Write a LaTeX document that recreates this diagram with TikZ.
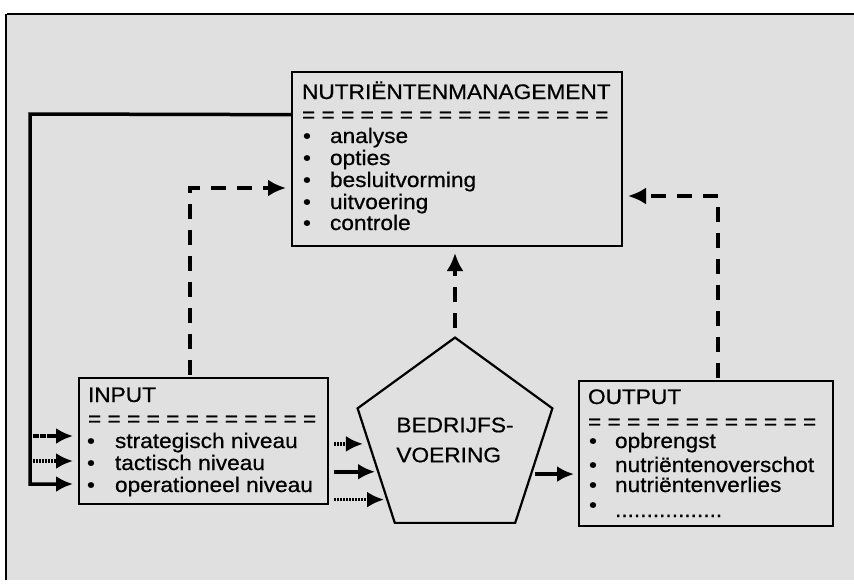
\documentclass[tikz,border=0pt]{standalone}
\usepackage{fontspec}
\setmainfont{Liberation Sans}[FakeStretch=1.08,FakeBold=0.6]
\usetikzlibrary{arrows.meta,calc,shapes.geometric}
\begin{document}
\begin{tikzpicture}[x=1pt,y=-1pt,
  txt/.style={anchor=base west,inner sep=0pt,outer sep=0pt,font=\fontsize{21}{21}\selectfont},
  box/.style={draw,line width=2pt,anchor=north west,inner sep=0pt},
  flow/.style={line width=3.5pt,-{Latex[length=17pt,width=16pt]}},
  rough/.style={dash pattern=on 6pt off 0.8pt},
  fine/.style={dash pattern=on 2.2pt off 0.8pt},
  dsh/.style={line width=3.5pt,dash pattern=on 15pt off 11pt,-{Latex[length=18pt,width=17pt]}},
]
\useasboundingbox (0,0) rectangle (854,584);
% background
\fill[black!12] (7,14) rectangle (854,580);
\draw[line width=2.5pt] (7,14) -- (854,14);
\draw[line width=1.5pt] (6,14) -- (6,580);

% boxes
\node[box,minimum width=330pt,minimum height=174pt] (nm) at (291,71) {};
\node[box,minimum width=249pt,minimum height=126pt] (in) at (78,377) {};
\node[box,minimum width=254pt,minimum height=145pt] (out) at (578,380) {};
\node[draw,line width=2.2pt,regular polygon,regular polygon sides=5,minimum size=164pt,inner sep=0pt,
      align=left,font=\fontsize{21}{30}\selectfont] (pent) at (455,440) {BEDRIJFS-\\VOERING};

% NUTRIENTENMANAGEMENT texts
\node[txt] (nmt) at (302,99) {NUTRIËNTENMANAGEMENT};
\node[txt] (nms) at (302,122) {= = = = = = = = = = = = = = = =};
\node[txt] (nmb1) at (303,143) {•};
\node[txt] (nmi1) at (330,143) {analyse};
\node[txt] (nmb2) at (303,165) {•};
\node[txt] (nmi2) at (330,165) {opties};
\node[txt] (nmb3) at (303,187) {•};
\node[txt] (nmi3) at (330,187) {besluitvorming};
\node[txt] (nmb4) at (303,209) {•};
\node[txt] (nmi4) at (330,209) {uitvoering};
\node[txt] (nmb5) at (303,230) {•};
\node[txt] (nmi5) at (330,230) {controle};

% INPUT texts
\node[txt] (int) at (88,402) {INPUT};
\node[txt] (ins) at (88,426) {= = = = = = = = = = = =};
\node[txt] (inb1) at (87,448) {•};
\node[txt] (ini1) at (115,448) {strategisch niveau};
\node[txt] (inb2) at (87,470) {•};
\node[txt] (ini2) at (115,470) {tactisch niveau};
\node[txt] (inb3) at (87,492) {•};
\node[txt] (ini3) at (115,492) {operationeel niveau};

% OUTPUT texts
\node[txt] (outt) at (588,404) {OUTPUT};
\node[txt] (outs) at (588,429) {= = = = = = = = = = = =};
\node[txt] (outb1) at (589,448) {•};
\node[txt] (outi1) at (615,448) {opbrengst};
\node[txt] (outb2) at (589,472) {•};
\node[txt] (outi2) at (615,472) {nutriëntenoverschot};
\node[txt] (outb3) at (589,492) {•};
\node[txt] (outi3) at (615,492) {nutriëntenverlies};
\node[txt] (outb4) at (589,512) {•};
\node[txt] (outi4) at (615,517) {.................};

% feedback line
\coordinate (fb1) at (30,114);
\coordinate (fb2) at (30,484);
\draw[flow,line join=miter,shorten >=5pt] ($(nm.north west)!0.248!(nm.south west)$) -- (fb1) -- (fb2) -- (fb2 -| in.west);

% left inputs
\coordinate (s1) at (33,436);
\coordinate (s2) at (33,461);
\draw[flow,rough,shorten >=5pt] (s1) -- (s1 -| in.west);
\draw[flow,fine,shorten >=5pt] (s2) -- (s2 -| in.west);

% INPUT -> BEDRIJFSVOERING
\coordinate (pe1) at ($(pent.corner 2)!0.31!(pent.corner 3)$);
\coordinate (pe2) at ($(pent.corner 2)!0.55!(pent.corner 3)$);
\coordinate (pe3) at ($(pent.corner 2)!0.79!(pent.corner 3)$);
\draw[flow,fine,shorten <=5pt,shorten >=5pt] (pe1 -| in.east) -- (pe1);
\draw[flow,shorten <=5pt,shorten >=2pt] (pe2 -| in.east) -- (pe2);
\draw[flow,fine,shorten <=5pt,shorten >=2pt] (pe3 -| in.east) -- (pe3);

% BEDRIJFSVOERING -> OUTPUT
\coordinate (po) at ($(pent.corner 5)!0.57!(pent.corner 4)$);
\draw[flow,shorten <=3pt,shorten >=4pt] (po) -- (po -| out.west);

% dashed feedback arrows
\coordinate (da) at (190,188);
\draw[dsh,shorten >=5pt,shorten <=2pt] (da |- in.north) -- (da) -- (da -| nm.west);
\draw[dsh,shorten >=6pt,shorten <=8pt] (pent.corner 1) -- (pent.corner 1 |- nm.south);
\coordinate (db) at (718,196);
\draw[dsh,shorten >=5pt,shorten <=2pt] (db |- out.north) -- (db) -- (db -| nm.east);
\end{tikzpicture}
\end{document}
